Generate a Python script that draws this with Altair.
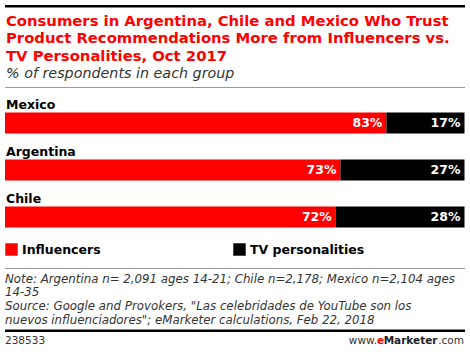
import altair as alt
import pandas as pd

FONT = "DejaVu Sans"
RED = "#ff0000"

countries = ["Mexico", "Argentina", "Chile"]
series = ["Influencers", "TV personalities"]
influencers = [83, 73, 72]
tv_personalities = [17, 27, 28]

title_lines = [
    "Consumers in Argentina, Chile and Mexico Who Trust",
    "Product Recommendations More from Influencers vs.",
    "TV Personalities, Oct 2017",
]
subtitle = "% of respondents in each group"
note_lines = [
    "Note: Argentina n= 2,091 ages 14-21; Chile n=2,178; Mexico n=2,104 ages",
    "14-35",
    "Source: Google and Provokers, \"Las celebridades de YouTube son los",
    "nuevos influenciadores\"; eMarketer calculations, Feb 22, 2018",
]
chart_id = "238533"

rows = []
for i, c in enumerate(countries):
    rows.append({"country": c, "series": series[0], "value": influencers[i], "order": 0})
    rows.append({"country": c, "series": series[1], "value": tv_personalities[i], "order": 1})
df = pd.DataFrame(rows)
cat_df = pd.DataFrame({"country": countries})

x_scale = alt.Scale(domain=[0, 100], range=[5, 464.5], nice=False, zero=True)
y_scale = alt.Scale(domain=countries, range=[112.5, 227.5], paddingInner=0.553, paddingOuter=0)

base = alt.Chart(df).transform_stack(
    stack="value", groupby=["country"], as_=["x0", "x1"],
    sort=[alt.SortField("order", order="ascending")],
).transform_calculate(label="datum.value + '%'")

bars = base.mark_bar().encode(
    x=alt.X("x0:Q", scale=x_scale, axis=None),
    x2="x1:Q",
    y=alt.Y("country:N", sort=countries, scale=y_scale, axis=None),
    color=alt.Color(
        "series:N",
        scale=alt.Scale(domain=series, range=[RED, "#000000"]),
        legend=alt.Legend(
            orient="none", legendX=5, legendY=243, direction="horizontal",
            title=None, symbolType="square", symbolSize=155, symbolStrokeWidth=0,
            labelFont=FONT, labelFontSize=12.5, labelFontWeight="bold",
            labelColor="#000000", labelOffset=4, columnPadding=132, padding=0,
        ),
    ),
)

values = base.mark_text(
    align="right", baseline="middle", dx=-4, color="white",
    font=FONT, fontSize=12.5, fontWeight="bold",
).encode(
    x=alt.X("x1:Q", scale=x_scale, axis=None),
    y=alt.Y("country:N", sort=countries, scale=y_scale, axis=None),
    text="label:N",
)

cats = alt.Chart(cat_df).mark_text(
    align="left", baseline="alphabetic", dy=-3.5, color="#000000",
    font=FONT, fontSize=12.5, fontWeight="bold",
).encode(
    x=alt.value(6),
    y=alt.Y("country:N", sort=countries, scale=y_scale, axis=None, bandPosition=0),
    text="country:N",
)

one = alt.Data(values=[{}])


def text_layer(text, x, y, align="left", **kw):
    return alt.Chart(one).mark_text(
        text=text, align=align, baseline="alphabetic", font=FONT, **kw
    ).encode(x=alt.value(x), y=alt.value(y))


def hrule(y, color, width):
    return alt.Chart(one).mark_rule(color=color, strokeWidth=width).encode(
        x=alt.value(5), x2=alt.value(465), y=alt.value(y)
    )


title = text_layer(title_lines, 6, 25.7, fontSize=14.8, fontWeight="bold",
                   color=RED, lineHeight=17.5)
sub = text_layer(subtitle, 6, 78, fontSize=14.3, fontStyle="italic", color="#333333")
notes = text_layer(note_lines, 5, 282.5, fontSize=11.8, fontStyle="italic",
                   color="#333333", lineHeight=13.7)
foot_id = text_layer(chart_id, 5, 344, fontSize=10.5, color="#333333")
f_com = text_layer(".com", 464, 344, align="right", fontSize=10.5, color="#333333")
f_mk = text_layer("Marketer", 437.5, 344, align="right", fontSize=10.5,
                  fontWeight="bold", color="#222222")
f_e = text_layer("e", 384, 344, align="right", fontSize=10.5,
                 fontWeight="bold", color=RED)
f_www = text_layer("www.", 377, 344, align="right", fontSize=10.5, color="#333333")

chart = alt.layer(
    hrule(6.2, "#000000", 2.5),
    title, sub,
    hrule(87.5, "#999999", 1),
    bars, values, cats,
    hrule(268.5, "#999999", 1),
    notes,
    hrule(330.8, "#000000", 2.5),
    foot_id, f_www, f_e, f_mk, f_com,
).properties(
    width=470, height=352, padding=0, autosize="none", background="white"
).configure_view(stroke=None)

chart.save("out.html", embed_options={"renderer": "svg", "actions": False})
